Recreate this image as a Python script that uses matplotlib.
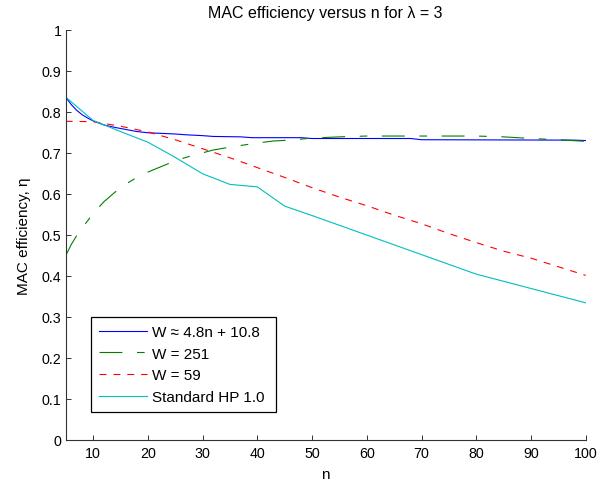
import matplotlib
matplotlib.use("Agg")
import matplotlib.pyplot as plt

plt.rcParams['font.family'] = ['Liberation Sans', 'DejaVu Sans']
plt.rcParams['lines.scale_dashes'] = False

# Series: W ~ 4.8n + 10.8
n_blue = [5, 6, 7, 8, 9, 10, 12, 14, 16, 18, 20, 25, 27, 30, 32, 37, 39, 48, 50, 68, 70, 98, 100]
eta_blue = [0.836, 0.818, 0.804, 0.793, 0.785, 0.778, 0.768, 0.762, 0.757, 0.752, 0.749, 0.746,
            0.744, 0.742, 0.740, 0.739, 0.737, 0.737, 0.735, 0.735, 0.732, 0.731, 0.730]

# Series: W = 251
n_green = [5, 6, 7, 8, 9, 10, 12, 14, 16, 18, 20, 22, 24, 26, 28, 30, 32, 35, 38, 40, 43, 46,
           50, 55, 60, 70, 80, 85, 90, 95, 100]
eta_green = [0.449, 0.476, 0.498, 0.517, 0.534, 0.552, 0.581, 0.604, 0.624, 0.640, 0.653, 0.664,
             0.675, 0.685, 0.693, 0.700, 0.707, 0.714, 0.720, 0.724, 0.729, 0.731, 0.736, 0.739,
             0.741, 0.741, 0.741, 0.739, 0.735, 0.732, 0.728]

# Series: W = 59
n_red = [5, 10, 15, 20, 25, 30, 35, 40, 45, 50, 55, 60, 65, 70, 75, 80, 85, 90, 95, 100]
eta_red = [0.777, 0.776, 0.765, 0.751, 0.732, 0.710, 0.688, 0.664, 0.640, 0.615, 0.592, 0.571,
           0.548, 0.527, 0.503, 0.481, 0.460, 0.443, 0.422, 0.401]

# Series: Standard HP 1.0
n_cyan = [5, 10, 15, 20, 25, 30, 35, 40, 45, 50, 80, 100]
eta_cyan = [0.836, 0.779, 0.752, 0.726, 0.689, 0.649, 0.623, 0.617, 0.570, 0.547, 0.404, 0.334]

labels = ["W \u2248 4.8n + 10.8", "W = 251", "W = 59", "Standard HP 1.0"]
x_ticks = [10, 20, 30, 40, 50, 60, 70, 80, 90, 100]
y_ticks = [0, 0.1, 0.2, 0.3, 0.4, 0.5, 0.6, 0.7, 0.8, 0.9, 1]
y_ticklabels = ["0", "0.1", "0.2", "0.3", "0.4", "0.5", "0.6", "0.7", "0.8", "0.9", "1"]

fig = plt.figure(figsize=(6.14, 4.85), dpi=100)
ax = fig.add_axes([0.107, 0.0913, 0.847, 0.845])

lw = 0.8
ax.plot(n_blue, eta_blue, color=(0, 0, 1), lw=lw, label=labels[0])
ax.plot(n_green, eta_green, color=(0, 0.5, 0), lw=lw, dashes=(16.5, 10.5, 5.5, 10.5), label=labels[1])
ax.plot(n_red, eta_red, color=(1, 0, 0), lw=lw, dashes=(5, 5), label=labels[2])
ax.plot(n_cyan, eta_cyan, color=(0, 0.75, 0.75), lw=lw, label=labels[3])

ax.set_xlim(5, 100)
ax.set_ylim(0, 1)
ax.set_xticks(x_ticks)
ax.set_yticks(y_ticks)
ax.set_yticklabels(y_ticklabels)
for s in ['top', 'right']:
    ax.spines[s].set_visible(False)
for s in ['left', 'bottom']:
    ax.spines[s].set_color('#333333')
    ax.spines[s].set_linewidth(0.8)
ax.tick_params(direction='in', length=3.6, width=0.7, colors='#333333', labelcolor='black',
               labelsize=10.3)
ax.tick_params(axis='x', pad=4.5)
ax.tick_params(axis='y', pad=3)

ax.set_title("MAC efficiency versus n for \u03bb = 3", fontsize=11.5, pad=9)
ax.set_xlabel("n", fontsize=11, labelpad=5)
ax.set_ylabel("MAC efficiency, \u03b7", fontsize=11, labelpad=8)

leg = ax.legend(loc='lower left', bbox_to_anchor=(0.0486, 0.0669, 0.3554, 0.236),
                mode='expand', borderaxespad=0, fontsize=11, handlelength=3.1,
                handletextpad=0.35, labelspacing=0.5, borderpad=0.55, fancybox=False,
                framealpha=1, edgecolor='black')
leg.get_frame().set_linewidth(0.9)

fig.savefig("out.png", dpi=100)
